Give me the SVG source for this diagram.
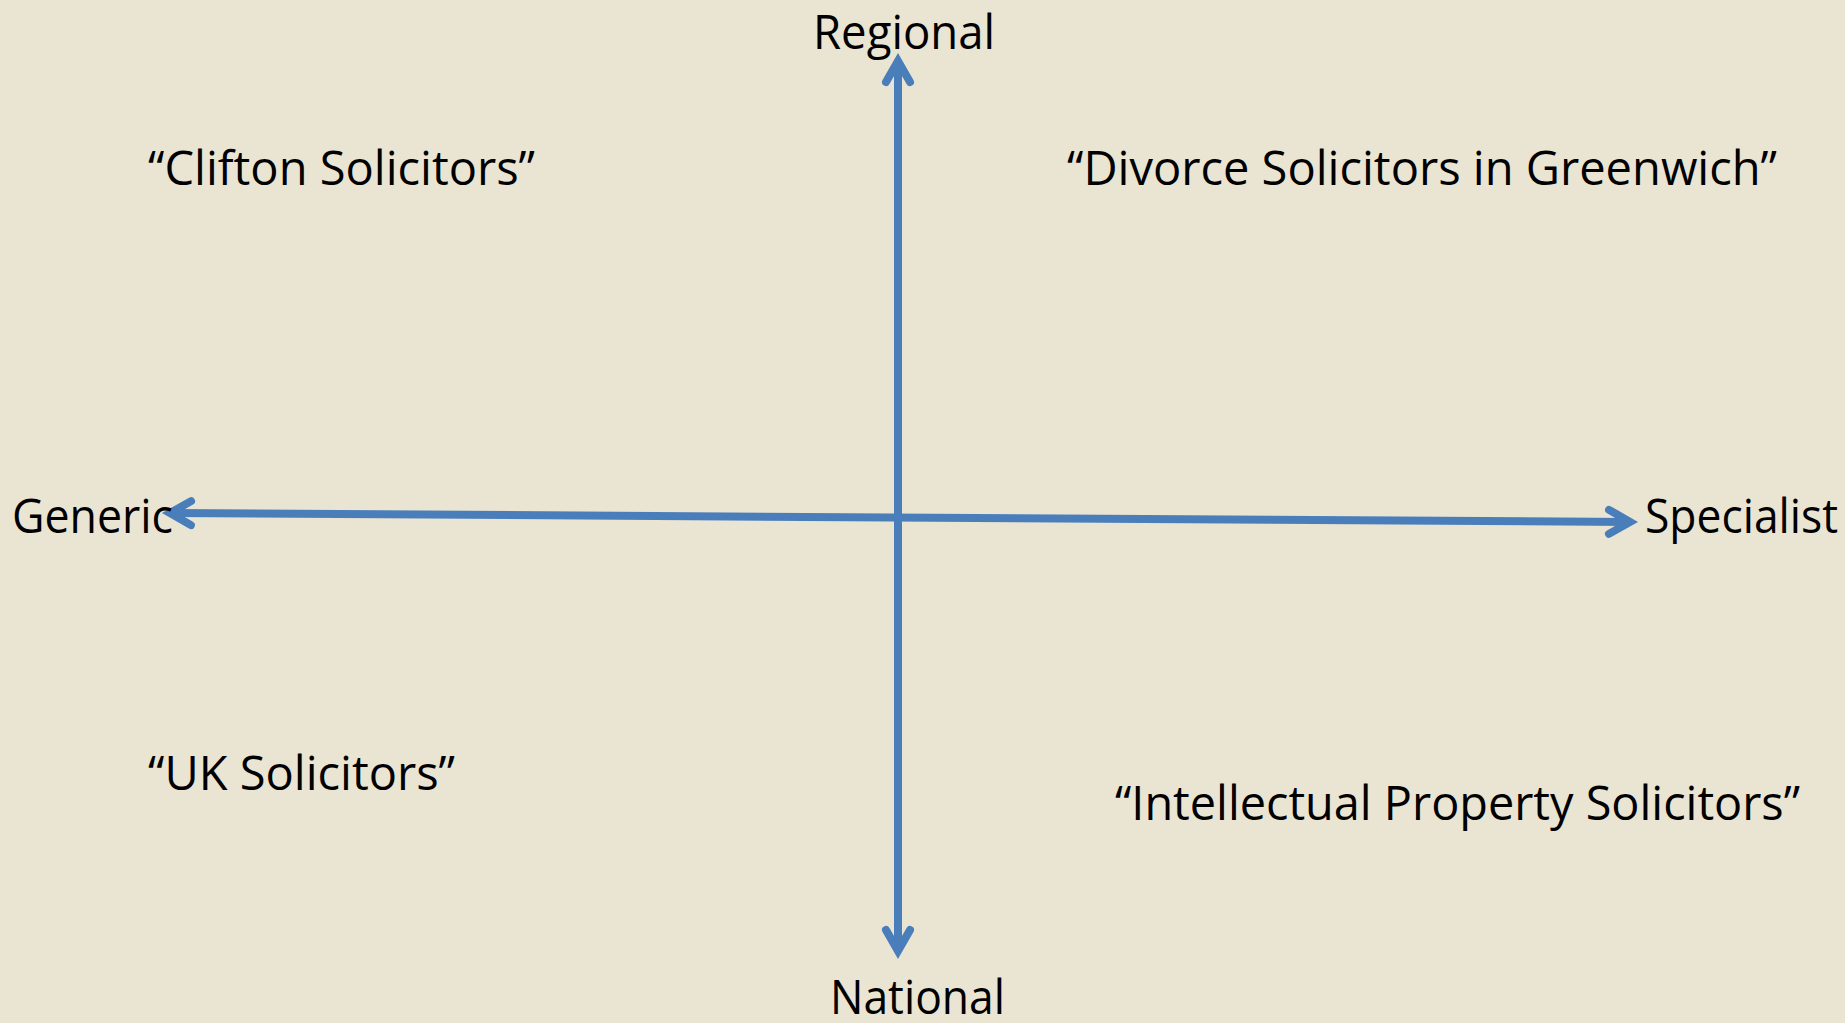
<svg xmlns="http://www.w3.org/2000/svg" width="1845" height="1023" viewBox="0 0 1845 1023">
  <style>
    .lbl { font-family: "Open Sans", "Noto Sans", "Liberation Sans", sans-serif; font-size: 48px; fill: #000000; }
    .axis { fill: none; stroke: #4A7EBB; stroke-width: 8; marker-start: url(#arr); marker-end: url(#arr); }
  </style>
  <defs>
    <marker id="arr" markerUnits="userSpaceOnUse" viewBox="-40 -25 50 50" refX="0" refY="0" markerWidth="50" markerHeight="50" orient="auto-start-reverse" overflow="visible">
      <path d="M-21,-12 L0,0 L-21,12" fill="none" stroke="#4A7EBB" stroke-width="8" stroke-linecap="round" stroke-linejoin="miter"/>
    </marker>
  </defs>
  <rect x="0" y="0" width="1845" height="1023" fill="#EAE4D3"/>

  <g id="connectors">
    <line id="axis-vertical" class="axis" x1="898" y1="61" x2="898" y2="951"/>
    <line id="axis-horizontal" class="axis" x1="170" y1="513" x2="1630" y2="522"/>
  </g>

  <g id="node-regional"><text class="lbl" x="813" y="49" textLength="182" lengthAdjust="spacingAndGlyphs">Regional</text></g>
  <g id="node-national"><text class="lbl" x="830" y="1014" textLength="175" lengthAdjust="spacingAndGlyphs">National</text></g>
  <g id="node-generic"><text class="lbl" x="12" y="533" textLength="161" lengthAdjust="spacingAndGlyphs">Generic</text></g>
  <g id="node-specialist"><text class="lbl" x="1645" y="533" textLength="193" lengthAdjust="spacingAndGlyphs">Specialist</text></g>
  <g id="node-clifton"><text class="lbl" x="148" y="185" textLength="387" lengthAdjust="spacingAndGlyphs">“Clifton Solicitors”</text></g>
  <g id="node-divorce"><text class="lbl" x="1067" y="185" textLength="710" lengthAdjust="spacingAndGlyphs">“Divorce Solicitors in Greenwich”</text></g>
  <g id="node-uk"><text class="lbl" x="148" y="790" textLength="307" lengthAdjust="spacingAndGlyphs">“UK Solicitors”</text></g>
  <g id="node-ip"><text class="lbl" x="1115" y="820" textLength="685" lengthAdjust="spacingAndGlyphs">“Intellectual Property Solicitors”</text></g>
</svg>
